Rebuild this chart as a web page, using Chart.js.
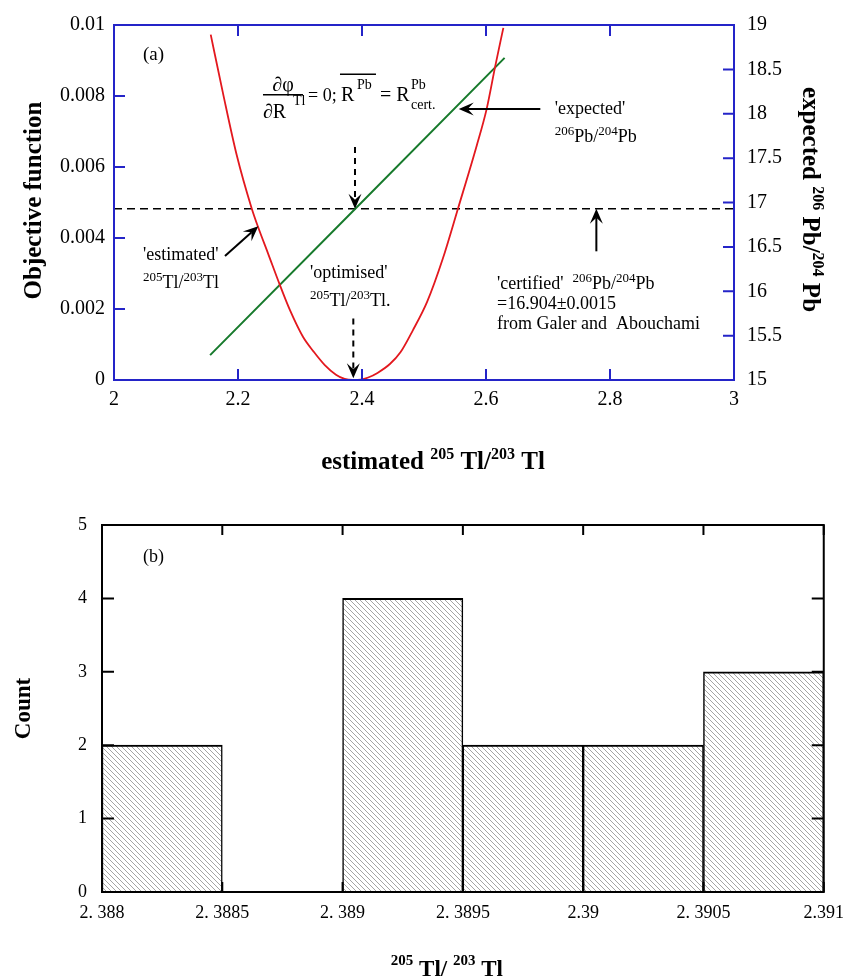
<!DOCTYPE html>
<html><head><meta charset="utf-8">
<script src="https://cdn.jsdelivr.net/npm/chart.js@4.4.1/dist/chart.umd.min.js"></script>
<style>
html,body{margin:0;padding:0;background:#fff;}
#wrap{position:relative;width:854px;height:978px;background:#fff;}
canvas{position:absolute;left:0;top:0;}
</style></head><body>
<div id="wrap"><canvas id="c1" width="854" height="978"></canvas><canvas id="c2" width="854" height="978"></canvas></div>
<script>
// ---------- panel (a) data ----------
const objX = [2.156, 2.176, 2.198, 2.222, 2.233, 2.249, 2.267, 2.284, 2.305, 2.322, 2.340, 2.358, 2.372, 2.385, 2.398, 2.410, 2.425, 2.445, 2.462, 2.482, 2.505, 2.530, 2.555, 2.585, 2.601, 2.615, 2.628];
const objY = [0.00973, 0.00806, 0.00633, 0.00484, 0.00428, 0.00354, 0.0027, 0.00196, 0.00121, 0.0008, 0.00042, 0.00015, 0.00003, 0.0, 0.00001, 0.00007, 0.0002, 0.00045, 0.00078, 0.0014, 0.0022, 0.0034, 0.00484, 0.0066, 0.00763, 0.00885, 0.00992];
const pbX = [2.155, 2.390, 2.630];
const pbY = [15.28, 16.935, 18.63];
const certX = [2, 3];
const certPb = 16.93;
const xTicksA = ["2", "2.2", "2.4", "2.6", "2.8", "3"];
const yTicksA = ["0", "0.002", "0.004", "0.006", "0.008", "0.01"];
const y2TicksA = ["15", "15.5", "16", "16.5", "17", "17.5", "18", "18.5", "19"];

// ---------- panel (b) data ----------
const binStart = [2.388, 2.3885, 2.389, 2.3895, 2.390, 2.3905];
const binEnd   = [2.3885, 2.389, 2.3895, 2.390, 2.3905, 2.391];
const counts   = [2, 0, 4, 2, 2, 3];
const xTicksB = ["2. 388", "2. 3885", "2. 389", "2. 3895", "2.39", "2. 3905", "2.391"];
const yTicksB = ["0", "1", "2", "3", "4", "5"];

const FAM = '"Liberation Serif", "Times New Roman", serif';
const BLUE = '#2424c8';
Chart.defaults.font.family = FAM;
Chart.defaults.color = '#000';

function font(size, bold){ return (bold ? 'bold ' : '') + size + 'px ' + FAM; }
function richWidth(ctx, parts, base, sub, bold){
  let w = 0;
  parts.forEach(p => { ctx.font = font(p.s ? sub : base, bold); w += ctx.measureText(p.t).width; });
  return w;
}
function drawRich(ctx, x, y, parts, o){
  const base = o.size, sub = o.sub || Math.round(base * 0.7), bold = !!o.bold;
  const rise = o.rise || base * 0.42;
  const w = richWidth(ctx, parts, base, sub, bold);
  let cx = o.align === 'center' ? x - w / 2 : (o.align === 'right' ? x - w : x);
  ctx.textAlign = 'left'; ctx.textBaseline = 'alphabetic';
  parts.forEach(p => {
    ctx.font = font(p.s ? sub : base, bold);
    const dy = p.s === 'sup' ? -rise : (p.s === 'sub' ? base * 0.3 : 0);
    ctx.fillText(p.t, cx, y + dy);
    cx += ctx.measureText(p.t).width;
  });
}
function arrow(ctx, x1, y1, x2, y2, dashed){
  ctx.save();
  ctx.strokeStyle = '#000'; ctx.fillStyle = '#000'; ctx.lineWidth = 2;
  const ang = Math.atan2(y2 - y1, x2 - x1), c = Math.cos(ang), s = Math.sin(ang);
  const L = 15, W = 6.5, N = 9;
  if (dashed) ctx.setLineDash([6, 5]);
  ctx.beginPath(); ctx.moveTo(x1, y1); ctx.lineTo(x2 - c * N, y2 - s * N); ctx.stroke();
  ctx.setLineDash([]);
  const bx = x2 - c * L, by = y2 - s * L;
  ctx.beginPath();
  ctx.moveTo(x2, y2);
  ctx.lineTo(bx - s * W, by + c * W);
  ctx.lineTo(x2 - c * N, y2 - s * N);
  ctx.lineTo(bx + s * W, by - c * W);
  ctx.closePath(); ctx.fill();
  ctx.restore();
}

const annotA = {
  id: 'annotA',
  afterDatasetsDraw(chart){
    const {ctx, chartArea: a, scales: {x, y, y2}} = chart;
    const X = v => x.getPixelForValue(v), Y = v => y.getPixelForValue(v), Y2 = v => y2.getPixelForValue(v);
    ctx.save();
    // frame + inward ticks
    ctx.strokeStyle = BLUE; ctx.lineWidth = 2;
    ctx.strokeRect(a.left, a.top, a.right - a.left, a.bottom - a.top);
    ctx.beginPath();
    x.ticks.forEach(t => { const p = X(t.value); ctx.moveTo(p, a.bottom); ctx.lineTo(p, a.bottom - 11); ctx.moveTo(p, a.top); ctx.lineTo(p, a.top + 11); });
    y.ticks.forEach(t => { const p = Y(t.value); ctx.moveTo(a.left, p); ctx.lineTo(a.left + 11, p); });
    y2.ticks.forEach(t => { const p = Y2(t.value); ctx.moveTo(a.right, p); ctx.lineTo(a.right - 11, p); });
    ctx.stroke();

    // arrows
    arrow(ctx, X(2.3887), Y(0.00656), X(2.3887), Y2(certPb), true);
    arrow(ctx, X(2.386), Y(0.00173), X(2.386), Y(0.00005), true);
    arrow(ctx, X(2.179), Y(0.00349), X(2.2327), Y(0.00433), false);
    arrow(ctx, X(2.6876), Y2(18.054), X(2.556), Y2(18.054), false);
    arrow(ctx, X(2.778), Y2(16.45), X(2.778), Y2(certPb), false);

    ctx.fillStyle = '#000';
    // texts
    drawRich(ctx, X(2.0468), Y(0.00902), [{t:'(a)'}], {size: 19});
    drawRich(ctx, X(2.0468), Y(0.00338), [{t:"'estimated'"}], {size: 18});
    drawRich(ctx, X(2.0468), Y(0.0026), [{t:'205', s:'sup'}, {t:'Tl/'}, {t:'203', s:'sup'}, {t:'Tl'}], {size: 18, sub: 13, rise: 7});
    drawRich(ctx, X(2.316), Y(0.00288), [{t:"'optimised'"}], {size: 18});
    drawRich(ctx, X(2.316), Y(0.00209), [{t:'205', s:'sup'}, {t:'Tl/'}, {t:'203', s:'sup'}, {t:'Tl.'}], {size: 18, sub: 13, rise: 7});
    drawRich(ctx, X(2.711), Y(0.00749), [{t:"'expected'"}], {size: 18});
    drawRich(ctx, X(2.711), Y(0.0067), [{t:'206', s:'sup'}, {t:'Pb/'}, {t:'204', s:'sup'}, {t:'Pb'}], {size: 18, sub: 13, rise: 7});
    drawRich(ctx, X(2.6177), Y(0.00257), [{t:"'certified'  "}, {t:'206', s:'sup'}, {t:'Pb/'}, {t:'204', s:'sup'}, {t:'Pb'}], {size: 18, sub: 13, rise: 7});
    drawRich(ctx, X(2.6177), Y(0.00201), [{t:'=16.904\u00B10.0015'}], {size: 18});
    drawRich(ctx, X(2.6177), Y(0.00145), [{t:'from Galer and  Abouchami'}], {size: 18});

    // formula
    const fx = X(2.2403), fy = Y(0.008036);
    ctx.font = font(20); ctx.textAlign = 'center'; ctx.textBaseline = 'alphabetic';
    ctx.fillText('\u2202\u03C6', fx + 20, fy - 4);
    ctx.lineWidth = 1.5; ctx.strokeStyle = '#000';
    ctx.beginPath(); ctx.moveTo(fx, fy); ctx.lineTo(fx + 40, fy); ctx.stroke();
    ctx.textAlign = 'left';
    ctx.font = font(20); ctx.fillText('\u2202R', fx, fy + 23);
    ctx.font = font(14); ctx.fillText('Tl', fx + 30, fy + 10);
    ctx.font = font(18); ctx.fillText('= 0;', fx + 45, fy + 6);
    ctx.font = font(20); ctx.fillText('R', fx + 78, fy + 6);
    ctx.font = font(14); ctx.fillText('Pb', fx + 94, fy - 6);
    ctx.beginPath(); ctx.moveTo(fx + 77, fy - 20.5); ctx.lineTo(fx + 113, fy - 20.5); ctx.stroke();
    ctx.font = font(20); ctx.fillText('= R', fx + 117, fy + 6);
    ctx.font = font(14); ctx.fillText('Pb', fx + 148, fy - 6);
    ctx.fillText('cert.', fx + 148, fy + 14.5);

    // axis titles
    const tA = [{t:'estimated '}, {t:'205', s:'sup'}, {t:' Tl/'}, {t:'203', s:'sup'}, {t:' Tl'}];
    drawRich(ctx, (a.left + a.right) / 2 + 9, a.bottom + 89, tA, {size: 25, bold: true, sub: 16, rise: 10, align: 'center'});
    ctx.save();
    ctx.translate(41, (a.top + a.bottom) / 2 - 2);
    ctx.rotate(-Math.PI / 2);
    drawRich(ctx, 0, 0, [{t:'Objective function'}], {size: 25, bold: true, align: 'center'});
    ctx.restore();
    ctx.save();
    ctx.translate(803, (a.top + a.bottom) / 2 - 3);
    ctx.rotate(Math.PI / 2);
    drawRich(ctx, 0, 0, [{t:'expected '}, {t:'206', s:'sup'}, {t:' Pb/'}, {t:'204', s:'sup'}, {t:' Pb'}], {size: 25, bold: true, sub: 16, rise: 10, align: 'center'});
    ctx.restore();
    ctx.restore();
  }
};

new Chart(document.getElementById('c1'), {
  type: 'scatter',
  data: { datasets: [
    { label: 'Objective function', data: objX.map((v, i) => ({x: v, y: objY[i]})), showLine: true,
      borderColor: '#e3181e', borderWidth: 1.8, pointRadius: 0, cubicInterpolationMode: 'monotone', yAxisID: 'y' },
    { label: 'expected 206Pb/204Pb', data: pbX.map((v, i) => ({x: v, y: pbY[i]})), showLine: true,
      borderColor: '#177a2c', borderWidth: 2, pointRadius: 0, yAxisID: 'y2' },
    { label: 'certified', data: certX.map(v => ({x: v, y: certPb})), showLine: true,
      borderColor: '#000', borderWidth: 1.6, borderDash: [8, 5], pointRadius: 0, yAxisID: 'y2' }
  ]},
  options: {
    responsive: false, animation: false, devicePixelRatio: 1, events: [],
    layout: { padding: { top: 22, bottom: 558, left: 0, right: 0 } },
    plugins: { legend: { display: false }, tooltip: { enabled: false } },
    scales: {
      x: { type: 'linear', position: 'bottom', min: 2, max: 3,
           grid: { display: false, drawTicks: false }, border: { display: false },
           ticks: { stepSize: 0.2, padding: 8, maxRotation: 0, autoSkip: false, font: { size: 20 }, callback: (v, i) => xTicksA[i] },
           afterFit: s => { s.height = 40; } },
      y: { type: 'linear', position: 'left', min: 0, max: 0.01,
           grid: { display: false, drawTicks: false }, border: { display: false },
           ticks: { stepSize: 0.002, padding: 9, autoSkip: false, font: { size: 20 }, callback: (v, i) => yTicksA[i] },
           afterFit: s => { s.width = 114; } },
      y2: { type: 'linear', position: 'right', min: 15, max: 19,
           grid: { display: false, drawTicks: false }, border: { display: false },
           ticks: { stepSize: 0.5, padding: 13, autoSkip: false, font: { size: 20 }, callback: (v, i) => y2TicksA[i] },
           afterFit: s => { s.width = 120; } }
    }
  },
  plugins: [annotA]
});

// ---------- panel (b) ----------
function makeHatch(){
  const c = document.createElement('canvas'); const n = 5;
  c.width = n; c.height = n;
  const g = c.getContext('2d');
  g.fillStyle = '#fff'; g.fillRect(0, 0, n, n);
  g.strokeStyle = '#a4a4a4'; g.lineWidth = 1;
  g.beginPath();
  g.moveTo(-1, -1); g.lineTo(n + 1, n + 1);
  g.moveTo(-1, n - 1); g.lineTo(1, n + 1);
  g.moveTo(n - 1, -1); g.lineTo(n + 1, 1);
  g.stroke();
  return document.getElementById('c2').getContext('2d').createPattern(c, 'repeat');
}
const pat = makeHatch();

const annotB = {
  id: 'annotB',
  afterDatasetsDraw(chart){
    const {ctx, chartArea: a, scales: {x, y}} = chart;
    const X = v => x.getPixelForValue(v), Y = v => y.getPixelForValue(v);
    ctx.save();
    ctx.strokeStyle = '#000'; ctx.lineWidth = 2;
    ctx.strokeRect(a.left, a.top, a.right - a.left, a.bottom - a.top);
    ctx.beginPath();
    x.ticks.forEach(t => { const p = X(t.value); ctx.moveTo(p, a.bottom); ctx.lineTo(p, a.bottom - 10); ctx.moveTo(p, a.top); ctx.lineTo(p, a.top + 10); });
    y.ticks.forEach(t => { const p = Y(t.value); ctx.moveTo(a.left, p); ctx.lineTo(a.left + 12, p); ctx.moveTo(a.right, p); ctx.lineTo(a.right - 12, p); });
    ctx.stroke();
    ctx.fillStyle = '#000';
    drawRich(ctx, X(2.38817), Y(4.5), [{t:'(b)'}], {size: 18});
    drawRich(ctx, (a.left + a.right) / 2 - 16, 976, [{t:'205', s:'sup'}, {t:' Tl/ '}, {t:'203', s:'sup'}, {t:' Tl'}], {size: 23, bold: true, sub: 15, rise: 11, align: 'center'});
    ctx.save();
    ctx.translate(30, (a.top + a.bottom) / 2);
    ctx.rotate(-Math.PI / 2);
    drawRich(ctx, 0, 0, [{t:'Count'}], {size: 23, bold: true, align: 'center'});
    ctx.restore();
    ctx.restore();
  }
};

new Chart(document.getElementById('c2'), {
  type: 'bar',
  data: { datasets: [{
    label: 'Count',
    data: binStart.map((s, i) => ({x: (s + binEnd[i]) / 2, y: counts[i]})),
    backgroundColor: pat, borderColor: '#000',
    borderWidth: { top: 2, left: 1.5, right: 1.5, bottom: 0 }, borderSkipped: false,
    barPercentage: 1, categoryPercentage: 1
  }]},
  options: {
    responsive: false, animation: false, devicePixelRatio: 1, events: [],
    layout: { padding: { top: 525, bottom: 46, left: 0, right: 26 } },
    plugins: { legend: { display: false }, tooltip: { enabled: false } },
    scales: {
      x: { type: 'linear', min: 2.388, max: 2.391, offset: false,
           grid: { display: false, drawTicks: false, offset: false }, border: { display: false },
           ticks: { stepSize: 0.0005, padding: 10, maxRotation: 0, autoSkip: false, font: { size: 18 }, callback: (v, i) => xTicksB[i] },
           afterFit: s => { s.height = 40; } },
      y: { type: 'linear', min: 0, max: 5, beginAtZero: true,
           grid: { display: false, drawTicks: false }, border: { display: false },
           ticks: { stepSize: 1, padding: 15, autoSkip: false, font: { size: 18 }, callback: (v, i) => yTicksB[i] },
           afterFit: s => { s.width = 102; } }
    }
  },
  plugins: [annotB]
});
</script>
</body></html>
